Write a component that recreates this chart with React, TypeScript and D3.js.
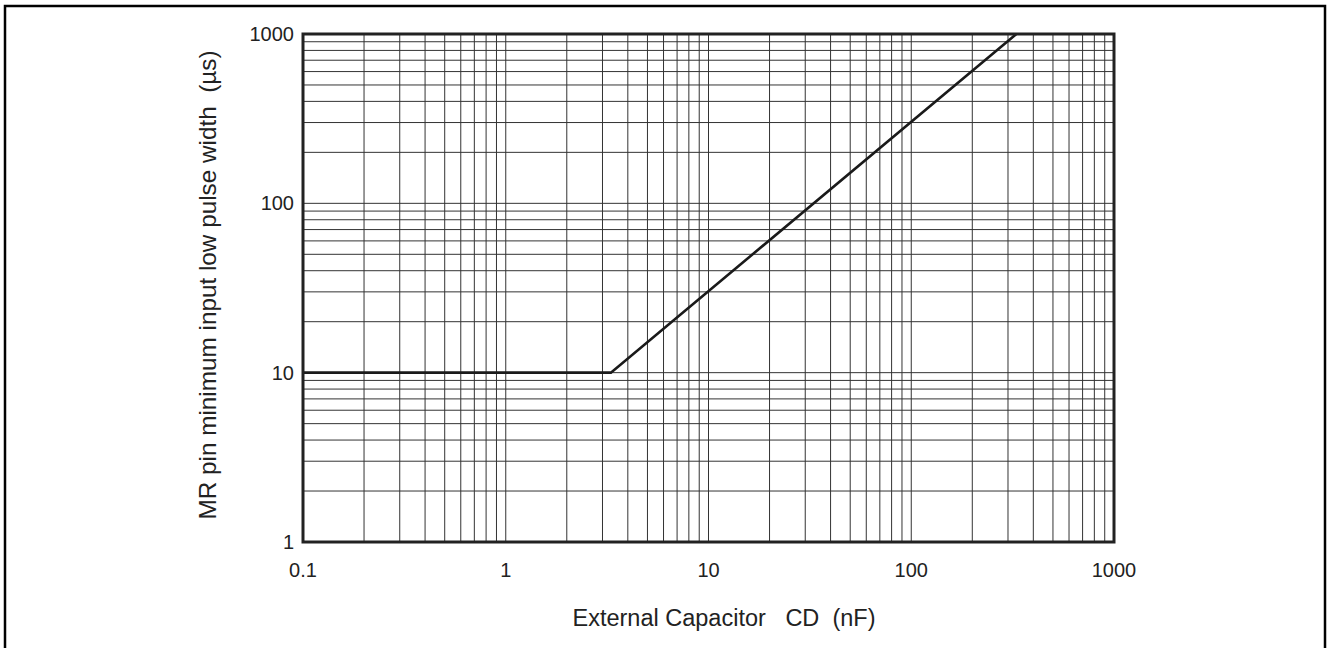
import React from 'react';
import * as d3 from 'd3';

// curve
const capNF = [0.1, 3.3, 330];
const pulseUs = [10, 10, 1000];

const xMajor = [0.1, 1, 10, 100, 1000];
const xTickLabels = ['0.1', '1', '10', '100', '1000'];
const yMajor = [1, 10, 100, 1000];
const yTickLabels = ['1', '10', '100', '1000'];

const W = 1327, H = 648;
const margin = {top: 34, right: 213, bottom: 106, left: 303};
const font = '"Liberation Sans", Arial, sans-serif';

export default function App() {
    const width = W - margin.left - margin.right,
        height = H - margin.top - margin.bottom;

    const x = d3.scaleLog().domain([0.1, 1000]).range([0, width]);
    const y = d3.scaleLog().domain([1, 1000]).range([height, 0]);

    const xGrid = x.ticks();
    const yGrid = y.ticks();

    const line = d3.line<number>()
        .x(d => x(capNF[d]))
        .y(d => y(pulseUs[d]));

    return (
        <svg width={W} height={H} style={{position: 'absolute', left: 0, top: 0, display: 'block'}}
             fontFamily={font}>
            <rect x={0} y={0} width={W} height={H} fill="#fff"/>
            <rect x={5} y={6} width={1320} height={700} fill="none" stroke="#000" strokeWidth={2.5}/>

            <g transform={`translate(${margin.left}, ${margin.top})`}>
                {xGrid.map((d, i) => (
                    <line key={'gx' + i} x1={x(d)} x2={x(d)} y1={0} y2={height}
                          stroke="#333" strokeWidth={1}/>
                ))}
                {yGrid.map((d, i) => (
                    <line key={'gy' + i} x1={0} x2={width} y1={y(d)} y2={y(d)}
                          stroke="#333" strokeWidth={1}/>
                ))}

                <path d={line(capNF.map((_, i) => i)) || ''} fill="none" stroke="#1a1a1a"
                      strokeWidth={2.6}/>

                <rect x={0} y={0} width={width} height={height} fill="none" stroke="#222" strokeWidth={3}/>

                {xMajor.map((d, i) => (
                    <text key={'tx' + i} x={x(d)} y={height + 35} textAnchor="middle"
                          fontSize={20} fill="#222">{xTickLabels[i]}</text>
                ))}
                {yMajor.map((d, i) => (
                    <text key={'ty' + i} x={-9} y={y(d)} dy="0.35em" textAnchor="end"
                          fontSize={20} fill="#222">{yTickLabels[i]}</text>
                ))}
            </g>

            <text x={724} y={626} textAnchor="middle" fontSize={23.5} fill="#222"
                  style={{whiteSpace: 'pre'}}>{'External Capacitor   CD  (nF)'}</text>
            <text transform="translate(216, 285) rotate(-90)" textAnchor="middle"
                  fontSize={24.3} fill="#222" style={{whiteSpace: 'pre'}}>
                {'MR pin minimum input low pulse width  (\u00b5s)'}
            </text>
        </svg>
    );
}
